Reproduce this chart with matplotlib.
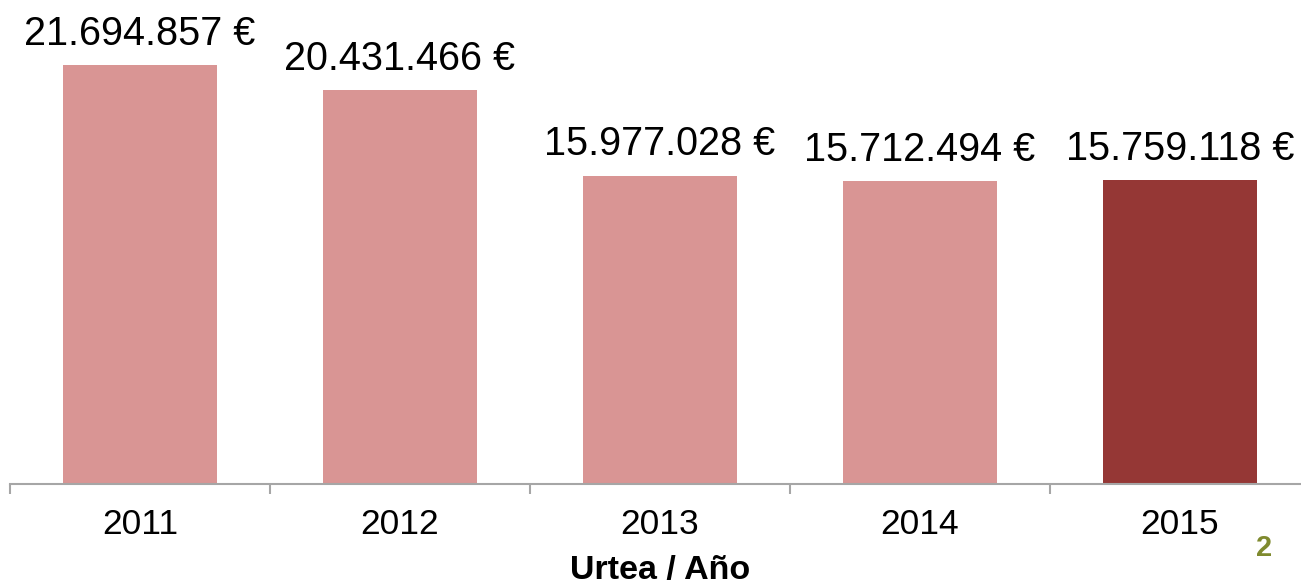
import matplotlib
matplotlib.use("Agg")
import matplotlib.pyplot as plt
import numpy as np

years = ["2011", "2012", "2013", "2014", "2015"]
values = [21694857, 20431466, 15977028, 15712494, 15759118]
labels = ["21.694.857 €", "20.431.466 €", "15.977.028 €", "15.712.494 €", "15.759.118 €"]
colors = ["#d99594", "#d99594", "#d99594", "#d99594", "#953735"]

plt.rcParams['font.family'] = ['Liberation Sans', 'DejaVu Sans']

W, H = 1301, 585
fig = plt.figure(figsize=(W / 100, H / 100), dpi=100)
ax_left, ax_right, ax_bottom = 10, 1310, 483.5
ax = fig.add_axes([ax_left / W, (H - ax_bottom) / H, (ax_right - ax_left) / W, ax_bottom / H])

x = np.arange(len(years))
ax.bar(x, values, width=0.59, color=colors, edgecolor='none', zorder=2)
ax.set_xlim(-0.5, len(years) - 0.5)
ax.set_ylim(0, 483.5 / 19.27 * 1e6)

for xi, v, lab in zip(x, values, labels):
    ax.annotate(lab, (xi, v), xytext=(0, 14.5), textcoords='offset points',
                ha='center', va='baseline', fontsize=28.5, color='black')

for s in ['top', 'right', 'left']:
    ax.spines[s].set_visible(False)
ax.spines['bottom'].set_color('#a6a6a6')
ax.spines['bottom'].set_linewidth(1.5)
ax.set_yticks([])
ax.set_xticks(x)
ax.set_xticklabels(years, fontsize=25.5)
ax.tick_params(axis='x', which='major', length=0, pad=18)
ax.set_xticks(np.arange(-0.5, len(years) + 0.5, 1), minor=True)
ax.tick_params(axis='x', which='minor', length=7, width=1.5, color='#a6a6a6')

fig.text(660 / W, 1 - 571 / H, "Urtea / Año", ha='center', va='center',
         fontsize=24.5, fontweight='bold')
fig.text(1264 / W, 1 - 548 / H, "2", ha='center', va='center',
         fontsize=21, fontweight='bold', color='#7f8a2e')

fig.savefig("out.png", dpi=100)
